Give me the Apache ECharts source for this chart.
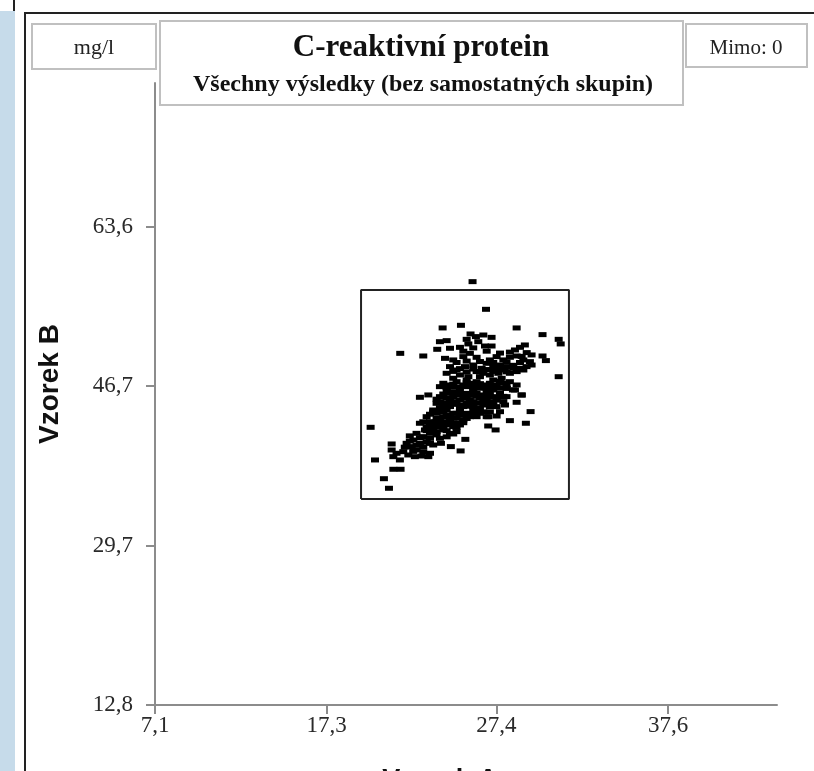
<!DOCTYPE html>
<html><head><meta charset="utf-8">
<script src="https://cdn.jsdelivr.net/npm/echarts@6/dist/echarts.min.js"></script>
<style>html,body{margin:0;padding:0;background:#fff;overflow:hidden}#c{width:814px;height:771px}</style>
</head><body><div id="c"></div>
<script>
// axis ticks
const xTicks = [7.1, 17.3, 27.4, 37.6];
const yTicks = [12.8, 29.7, 46.7, 63.6];
const xRange = [7.1, 44.08];
const yRange = [12.8, 78.9];
// acceptance rectangle (Vzorek A limits, Vzorek B limits)
const limitA = [19.35, 31.71];
const limitB = [34.7, 56.9];
// results [Vzorek A, Vzorek B]
const outliers = [
[25.98,57.79],[26.78,54.85],[25.29,53.15],[24.20,52.87],[28.60,52.87],[30.14,52.16],[31.10,51.66],[31.22,51.17],
[21.68,50.17],[23.05,49.89],[30.14,49.89],[30.34,49.40],[31.10,47.69],[19.92,42.31],[20.18,38.84],[21.17,40.54],
[20.71,36.85],[21.01,35.83],[21.27,37.85],[21.70,37.85],[29.43,43.98],[29.15,42.74],[28.20,43.02],[26.91,42.45],
[27.35,42.03],[25.55,41.03],[25.27,39.80],[24.10,40.61],[24.69,40.26]
];
const rightGroup = [
[27.81,45.56],[28.60,44.97],[27.91,44.68],[27.61,43.97],[26.92,43.44],[28.90,45.74],[28.38,46.28],[28.01,46.46]
];
const upperCluster = [
[25.86,52.23],[26.18,51.95],[26.62,52.12],[27.11,51.87],[24.04,51.41],[24.44,51.52],[25.63,51.66],[26.32,51.41],
[26.72,50.95],[27.11,50.95],[23.88,50.60],[24.64,50.71],[25.23,50.81],[25.73,51.17],[28.50,50.53],[28.80,50.81],
[29.09,51.06],[29.49,50.00],[24.34,49.64],[24.83,49.47],[25.43,49.82],[25.82,50.17],[26.22,49.75],[27.01,49.47],
[27.41,49.82],[27.81,49.47],[28.20,49.75],[28.60,49.89],[29.00,49.47],[29.39,49.29],[24.64,48.76],[25.03,48.40],
[25.53,48.76],[26.02,48.93],[26.52,48.58],[26.82,49.11],[27.21,48.76],[27.61,48.93],[28.00,48.76],[28.40,48.58],
[28.80,48.58],[29.19,48.76],[29.49,48.93],[24.44,48.05],[25.23,47.87],[25.73,47.69],[26.22,48.23],[26.62,48.05],
[27.01,47.87],[27.51,48.05],[27.90,48.40],[28.20,48.05],[28.60,48.23],[29.00,48.40],
[24.83,48.25],[25.23,48.55],[25.63,48.20],[26.02,48.50],[26.42,48.20],[26.82,48.45],[27.21,48.25],[27.61,48.55],
[28.00,48.20],[28.40,48.90],[25.03,49.20],[25.63,49.35],[26.42,49.30],[27.21,49.20],[28.00,49.25],[28.80,49.20],
[25.43,50.40],[26.02,50.75],[26.82,50.40],[27.61,50.20],[28.20,50.30],[28.90,49.85],[29.20,50.25]
];
const coreCluster = [
[24.24,46.99],[24.64,46.81],[25.03,47.16],[25.43,46.81],[25.82,46.99],[26.22,47.16],[26.62,46.81],[27.01,46.99],
[27.41,46.81],[27.81,46.99],[28.20,47.16],[28.60,46.81],[28.00,46.46],[28.50,46.28],[28.90,45.75],[24.44,46.28],
[24.83,46.10],[25.23,46.28],[25.63,45.92],[26.02,46.10],[26.42,46.46],[26.82,46.10],[27.21,46.28],[27.61,45.92],
[28.00,45.57],[22.85,45.50],[23.35,45.75],[24.04,45.57],[24.44,45.39],[24.83,45.57],[25.23,45.22],[25.63,45.39],
[26.02,45.04],[26.42,45.39],[26.82,45.22],[27.21,45.04],[27.81,45.04],[23.84,44.86],[24.24,44.68],[24.64,44.51],
[25.03,44.86],[25.43,44.51],[25.82,44.68],[26.22,44.33],[26.62,44.68],[27.01,44.51],[27.41,44.51],[23.64,44.15],
[24.04,43.98],[24.44,44.15],[24.83,43.80],[25.23,43.98],[25.63,43.80],[26.02,44.15],[26.42,43.80],[26.82,43.44],
[27.41,43.51],[23.25,43.44],[23.84,43.27],[24.24,43.44],[24.64,43.09],[25.03,43.27],[25.43,43.09],[25.82,43.44],
[23.64,42.74],[24.04,42.56],[24.44,42.74],[24.83,42.38],[25.23,42.56],[22.85,42.74],[23.25,42.38],[23.64,42.03],
[24.24,42.03],[24.64,41.67],[25.03,41.85],
[24.04,46.63],[24.64,45.92],[25.03,45.75],[25.43,45.57],[25.82,45.75],[26.22,45.92],[26.62,45.75],[27.01,45.57],
[27.41,45.57],[24.04,45.04],[24.44,44.86],[24.83,45.04],[25.23,44.68],[25.63,44.86],[26.02,44.51],[26.42,44.86],
[23.84,43.80],[24.24,43.98],[24.64,43.62],[25.03,43.80],[25.43,43.62],[26.22,43.44],[23.45,42.91],[23.84,42.38],
[24.24,42.91],[24.64,42.56],[25.03,42.74],[23.45,41.67],[23.15,42.03],[25.63,46.63],[26.82,46.63],[27.61,46.46],
[24.83,46.63],[26.02,46.81],[27.21,47.34],[27.71,47.52],[26.42,47.69],[24.83,47.52],[25.63,47.34],
[24.44,46.55],[24.83,46.90],[25.23,46.60],[25.63,47.05],[26.02,46.45],[26.42,46.95],[26.82,46.40],[27.21,46.65],
[27.61,47.20],[28.00,46.85],[24.24,45.85],[24.64,45.25],[25.03,46.00],[25.43,45.85],[25.82,45.25],[26.22,45.60],
[26.62,45.30],[27.01,45.85],[27.41,45.20],[27.81,45.60],[23.84,45.30],[24.04,44.40],[24.44,44.55],[24.83,44.75],
[25.23,44.35],[25.63,44.55],[26.02,44.85],[26.42,44.25],[26.82,44.90],[27.21,44.60],[23.45,43.70],[23.64,43.95],
[24.04,43.20],[24.44,43.55],[24.83,43.30],[25.23,43.60],[25.63,43.25],[26.02,43.70],[26.62,43.95],[27.01,43.95],
[23.05,42.90],[23.45,42.45],[23.84,42.90],[24.24,42.35],[24.64,42.95],[25.03,42.30],[25.43,42.80],[24.44,41.95],
[23.84,41.85],[23.25,41.95]
];
const lowerBand = [
[22.65,41.67],[23.05,41.32],[23.45,41.14],[23.84,41.50],[22.46,40.96],[22.85,40.61],[23.25,40.79],[23.64,40.43],
[24.04,41.14],[22.06,40.61],[22.36,40.26],[22.65,39.90],[23.05,39.72],[23.45,39.55],[21.86,39.72],[22.16,39.37],
[22.55,39.19],[22.95,39.26],[23.35,39.19],[21.46,39.55],[21.27,39.19],[21.66,38.84],[21.17,39.90],
[22.25,40.85],[22.65,40.40],[23.05,40.25],[23.45,40.60],[22.85,41.20],[22.45,39.75],[21.95,40.20],[24.44,41.30],
[24.83,41.60],[22.25,41.40]
];

const fmt = v => Number(v).toFixed(1).replace('.', ',');
const rectPath = [[limitA[0],limitB[0]],[limitA[1],limitB[0]],[limitA[1],limitB[1]],[limitA[0],limitB[1]],[limitA[0],limitB[0]]];
const allPoints = outliers.concat(rightGroup, upperCluster, coreCluster, lowerBand);

const chart = echarts.init(document.getElementById('c'), null, {renderer: 'canvas'});
const axisCol = '#8c8c8c';
const serif = '"Liberation Serif","Times New Roman",serif';
const sans = '"Liberation Sans",Arial,sans-serif';
chart.setOption({
  animation: false,
  backgroundColor: '#fff',
  grid: {left: 155, top: 83, width: 622, height: 622, containLabel: false},
  xAxis: {
    type: 'value', min: xRange[0], max: xRange[1],
    splitLine: {show: false},
    axisLine: {lineStyle: {color: axisCol, width: 2}},
    axisTick: {customValues: xTicks, length: 9, lineStyle: {color: axisCol, width: 2}},
    axisLabel: {customValues: xTicks, formatter: fmt, margin: 9, color: '#2a2a2a', fontSize: 23, fontFamily: serif}
  },
  yAxis: {
    type: 'value', min: yRange[0], max: yRange[1],
    splitLine: {show: false},
    axisLine: {lineStyle: {color: axisCol, width: 2}},
    axisTick: {customValues: yTicks, length: 9, lineStyle: {color: axisCol, width: 2}},
    axisLabel: {customValues: yTicks, formatter: fmt, margin: 22, color: '#2a2a2a', fontSize: 23, fontFamily: serif}
  },
  series: [
    {type: 'line', data: rectPath, symbol: 'none', silent: true,
     lineStyle: {color: '#222', width: 2}, z: 2},
    {type: 'scatter', data: allPoints, symbol: 'rect', symbolSize: [8, 5],
     itemStyle: {color: '#000', opacity: 1}, z: 3}
  ],
  graphic: [
    {type: 'rect', shape: {x: 0, y: 11, width: 15, height: 760}, style: {fill: '#c6dbea'}, silent: true},
    {type: 'line', shape: {x1: 14, y1: 0, x2: 14, y2: 11}, style: {stroke: '#222', lineWidth: 2}, silent: true},
    {type: 'line', shape: {x1: 25, y1: 13, x2: 25, y2: 771}, style: {stroke: '#222', lineWidth: 2}, silent: true},
    {type: 'line', shape: {x1: 24, y1: 13, x2: 814, y2: 13}, style: {stroke: '#222', lineWidth: 2}, silent: true},
    {type: 'rect', shape: {x: 32, y: 24, width: 124, height: 45}, style: {fill: '#fff', stroke: '#c0c0c0', lineWidth: 2}, silent: true},
    {type: 'rect', shape: {x: 160, y: 21, width: 523, height: 84}, style: {fill: '#fff', stroke: '#c0c0c0', lineWidth: 2}, silent: true},
    {type: 'rect', shape: {x: 686, y: 24, width: 121, height: 43}, style: {fill: '#fff', stroke: '#c0c0c0', lineWidth: 2}, silent: true},
    {type: 'text', x: 94, y: 48, style: {text: 'mg/l', fill: '#222', font: '22px ' + serif, textAlign: 'center', textVerticalAlign: 'middle'}, silent: true},
    {type: 'text', x: 746, y: 48, style: {text: 'Mimo: 0', fill: '#222', font: '21px ' + serif, textAlign: 'center', textVerticalAlign: 'middle'}, silent: true},
    {type: 'text', x: 421, y: 48, style: {text: 'C-reaktivní protein', fill: '#111', font: 'bold 31px ' + serif, textAlign: 'center', textVerticalAlign: 'middle'}, silent: true},
    {type: 'text', x: 423, y: 85, style: {text: 'Všechny výsledky (bez samostatných skupin)', fill: '#111', font: 'bold 24px ' + serif, textAlign: 'center', textVerticalAlign: 'middle'}, silent: true},
    {type: 'text', x: 50, y: 384, rotation: Math.PI / 2, style: {text: 'Vzorek B', fill: '#111', font: 'bold 28px ' + sans, textAlign: 'center', textVerticalAlign: 'middle'}, silent: true},
    {type: 'text', x: 440, y: 781, style: {text: 'Vzorek A', fill: '#111', font: 'bold 27px ' + sans, textAlign: 'center', textVerticalAlign: 'middle'}, silent: true}
  ]
});
</script>
</body></html>
